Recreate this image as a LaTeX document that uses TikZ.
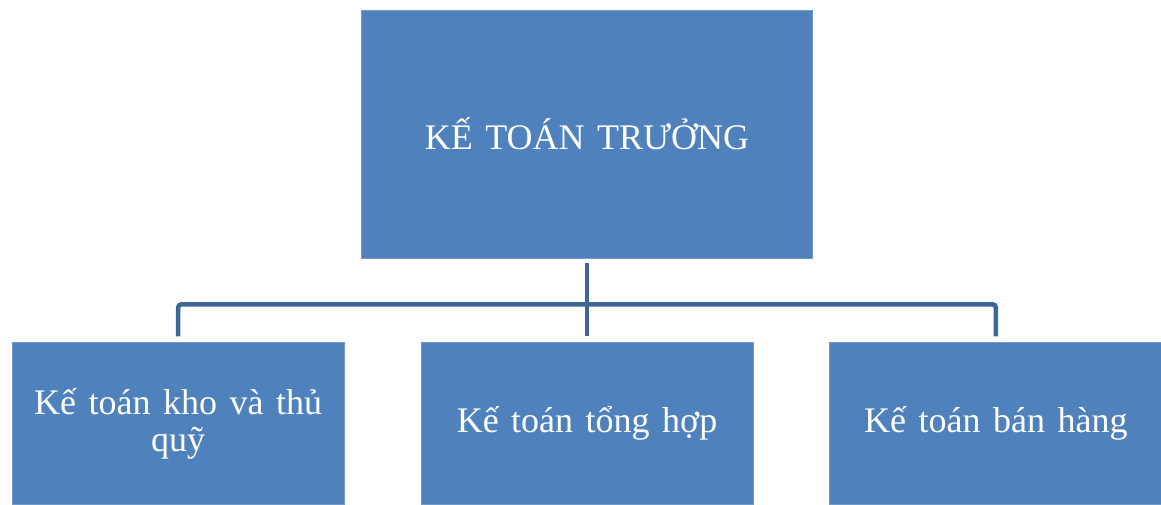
\documentclass[tikz,border=0pt]{standalone}
\usepackage{fontspec}
\setmainfont{Liberation Serif}
\usepackage{tikz}
\usetikzlibrary{positioning}
\definecolor{ktblue}{HTML}{4F81BD}
\definecolor{ktline}{HTML}{3E6696}
\tikzset{
  ktbox/.style={
    rectangle,
    draw=ktblue!80!white,
    fill=ktblue,
    line width=0.8pt,
    align=center,
    inner sep=0pt,
    text=white,
    font={\fontsize{36}{37}\selectfont\spaceskip=12.5pt\relax}
  },
  ktchief/.style={ktbox, minimum width=451pt, minimum height=248pt},
  ktstaff/.style={ktbox, minimum width=332pt, minimum height=162pt},
  ktlink/.style={draw=ktline, line width=4.5pt, rounded corners=3pt}
}
\begin{document}
\begin{tikzpicture}[x=1pt, y=1pt, node distance=84pt and 76pt]
\useasboundingbox (0,0) rectangle (1161,504);
\node[ktchief] (chief) at (587,370) {KẾ TOÁN TRƯỞNG};
\node[ktstaff, below=of chief] (general) {Kế toán tổng hợp};
\node[ktstaff, left=of general] (warehouse) {Kế toán kho và thủ\\quỹ};
\node[ktstaff, right=of general] (sales) {Kế toán bán hàng};
\coordinate (bus) at ([yshift=-46pt]chief.south);
\draw[ktlink, shorten <=5pt, shorten >=6pt] (chief.south) -- (general.north);
\draw[ktlink, shorten <=6pt, shorten >=6pt] (warehouse.north) |- (bus) -| (sales.north);
\end{tikzpicture}
\end{document}
